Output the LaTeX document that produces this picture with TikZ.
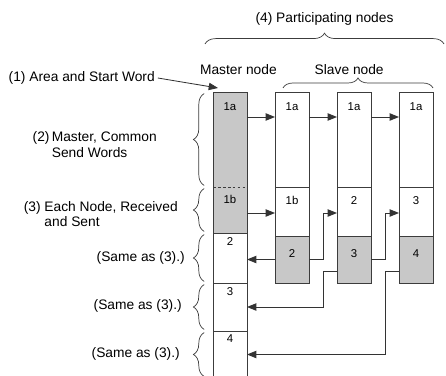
\documentclass[tikz,border=0pt]{standalone}
\usepackage{fontspec}
\setmainfont{Liberation Sans}
\usepackage{tikz}
\usetikzlibrary{arrows.meta, positioning, calc, decorations.pathreplacing}
\definecolor{cellgray}{RGB}{200,200,200}
\definecolor{linegray}{RGB}{60,60,60}
\tikzset{
  cell/.style={rectangle, draw=linegray, fill=white, minimum width=0.85cm,
    inner sep=0pt, outer sep=0pt, line width=0.6pt},
  celltxt/.style={inner sep=0pt, text=black, font=\fontsize{8.1}{9}\selectfont},
  lbl/.style={inner sep=0pt, text=black, font=\fontsize{9.8}{10.8}\selectfont},
  arrow/.style={-{Triangle[length=6.6pt,width=5.2pt]}, line width=0.6pt, color=black!80},
  brace/.style={decorate, decoration={brace, amplitude=0.27cm}, line width=0.5pt, color=linegray}
}

\begin{document}
\begin{tikzpicture}[x=0.25mm, y=-0.25mm]
  \useasboundingbox (0,0) rectangle (446,376);
  \clip (0,0) rectangle (446,376);

  % master node column
  \node[cell, draw=none, fill=cellgray, minimum height=2.375cm, anchor=north west] (m1a) at (213,92) {};
  \node[cell, draw=none, fill=cellgray, minimum height=1.15cm, below=0pt of m1a] (m1b) {};
  \node[cell, minimum height=1.25cm, below=0pt of m1b] (m2) {};
  \node[cell, minimum height=1.2cm, below=0pt of m2] (m3) {};
  \node[cell, minimum height=1.175cm, below=0pt of m3] (m4) {};
  \draw[line width=0.6pt, linegray] (m1a.north west) rectangle (m1b.south east);
  \draw[line width=0.6pt, linegray, dash pattern=on 2pt off 1.5pt] (m1a.south west) -- (m1a.south east);

  \node[celltxt] (m1a-t) at ([yshift=-0.375cm]m1a.north) {1a};
  \node[celltxt] (m1b-t) at ([yshift=-0.3cm]m1b.north) {1b};
  \node[celltxt] (m2-t) at ([yshift=-0.225cm]m2.north) {2};
  \node[celltxt] (m3-t) at ([yshift=-0.225cm]m3.north) {3};
  \node[celltxt] (m4-t) at ([yshift=-0.2cm]m4.north) {4};

  % slave node columns
  \foreach \i/\prev/\midtxt/\lowtxt in {1/m1a/1b/2, 2/sa1/2/3, 3/sa2/3/4} {
    \node[cell, minimum height=2.375cm, right=0.7cm of \prev] (sa\i) {};
    \node[cell, minimum height=1.225cm, below=0pt of sa\i] (sb\i) {};
    \node[cell, fill=cellgray, minimum height=1.175cm, below=0pt of sb\i] (sc\i) {};
    \node[celltxt] (sa\i-t) at ([yshift=-0.375cm]sa\i.north) {1a};
    \node[celltxt] (sb\i-t) at ([yshift=-0.33cm]sb\i.north) {\midtxt};
    \node[celltxt] (sc\i-t) at ([yshift=-0.45cm]sc\i.north) {\lowtxt};
  }

  % words passed along
  \draw[arrow] ([yshift=-0.625cm]m1a.north east) -- ([yshift=-0.625cm]sa1.north west);
  \draw[arrow] ([yshift=-0.625cm]sa1.north east) -- ([yshift=-0.625cm]sa2.north west);
  \draw[arrow] ([yshift=-0.625cm]sa2.north east) -- ([yshift=-0.625cm]sa3.north west);
  \draw[arrow] ([yshift=-0.65cm]m1b.north east) -- ([yshift=-0.65cm]sb1.north west);
  \draw[arrow] (sc1.east) -- ++(0.35cm,0) |- ([yshift=-0.65cm]sb2.north west);
  \draw[arrow] (sc2.east) -- ++(0.35cm,0) |- ([yshift=-0.65cm]sb3.north west);
  \draw[arrow] (sc1.west) -- (sc1.west -| m2.east);
  \draw[arrow] ([yshift=-0.3cm]sc2.west) -- ++(-0.35cm,0) |- (m3.east);
  \draw[arrow] ([yshift=-0.3cm]sc3.west) -- ++(-0.35cm,0) |- (m4.east);

  % braces and labels
  \draw[brace] ([xshift=-0.2cm, yshift=1.2cm]m1a.north west) -- ([xshift=0.275cm, yshift=1.2cm]sa3.north east)
    node[lbl, midway, above=0.45cm] (part-l) {(4) Participating nodes};
  \draw[brace, decoration={amplitude=0.25cm}] ([xshift=0.2cm, yshift=0.1cm]sa1.north west) -- ([yshift=0.1cm]sa3.north east)
    node[lbl, midway, above=0.325cm, xshift=-0.22cm] (slave-l) {Slave node};
  \node[lbl, above=0.425cm of m1a.north, xshift=0.21cm] (master-l) {Master node};

  \foreach \cellname in {m1a, m1b, m2, m3, m4}
    \draw[brace] ([xshift=-0.22cm, yshift=0.04cm]\cellname.south west) -- ([xshift=-0.22cm, yshift=-0.04cm]\cellname.north west);

  \node[lbl, anchor=east] (area-l) at (155,78) {(1) Area and Start Word};
  \draw[arrow] ([xshift=2pt]area-l.east) -- ([shift={(0.125cm,0.1cm)}]m1a.north west);
  \node[lbl, anchor=east, align=left] (send-l) at (157,144.5) {(2)\,Master, Common\\\hphantom{(2)\,}Send Words};
  \node[lbl, anchor=east, align=left] (each-l) at (178,214) {(3) Each Node, Received\\\hphantom{(3) }and Sent};
  \node[lbl, anchor=east] (same1-l) at (185,258) {(Same as (3).)};
  \node[lbl, anchor=east] (same2-l) at (182,306) {(Same as (3).)};
  \node[lbl, anchor=east] (same3-l) at (180,354) {(Same as (3).)};
\end{tikzpicture}
\end{document}
